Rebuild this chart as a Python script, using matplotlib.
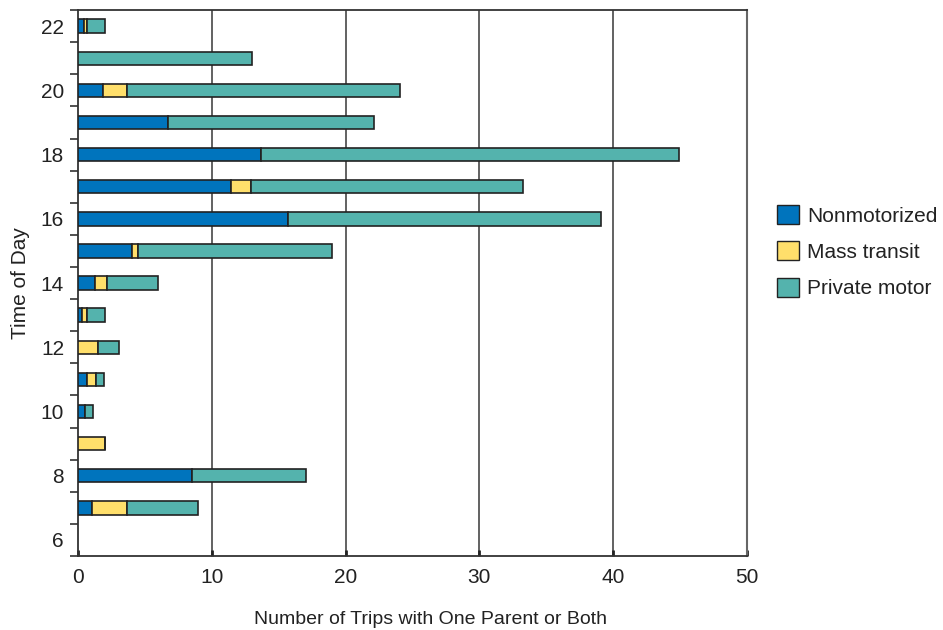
import matplotlib
matplotlib.use("Agg")
import matplotlib.pyplot as plt
from matplotlib.patches import Patch
import numpy as np

plt.rcParams['font.family'] = ['Liberation Sans', 'DejaVu Sans']

hours = [7, 8, 9, 10, 11, 12, 13, 14, 15, 16, 17, 18, 19, 20, 21, 22]
nonmotorized = [1.05, 8.55, 0.0, 0.5, 0.7, 0.0, 0.3, 1.3, 4.05, 15.7, 11.4, 13.7, 6.7, 1.85, 0.0, 0.45]
mass_transit = [2.65, 0.0, 2.0, 0.0, 0.65, 1.5, 0.4, 0.9, 0.45, 0.0, 1.5, 0.0, 0.0, 1.85, 0.0, 0.25]
private_motor = [5.3, 8.5, 0.0, 0.6, 0.6, 1.55, 1.3, 3.8, 14.5, 23.4, 20.35, 31.25, 15.45, 20.4, 13.0, 1.3]

series_names = ["Nonmotorized", "Mass transit", "Private motor"]
colors = ["#0074BD", "#FFDF6B", "#54B3AD"]
yticks = [6, 8, 10, 12, 14, 16, 18, 20, 22]
xticks = [0, 10, 20, 30, 40, 50]

fs = 15
fig = plt.figure(figsize=(9.43, 6.3), dpi=100)
ax = fig.add_axes([0.0827, 0.1175, 0.7095, 0.8665])

left = np.zeros(len(hours))
for vals, c in zip([nonmotorized, mass_transit, private_motor], colors):
    v = np.array(vals)
    ax.barh(hours, v, left=left, height=0.42, color=c, edgecolor="#222222",
            linewidth=1.2, zorder=3)
    left = left + v

ax.set_xlim(0, 50)
ax.set_ylim(5.5, 22.5)
ax.set_xticks(xticks)
ax.set_yticks(yticks)
ax.set_yticks(np.arange(5.5, 23, 1.0), minor=True)
ax.tick_params(axis='y', which='major', length=0, labelsize=fs, pad=10, colors="#222222")
ax.tick_params(axis='y', which='minor', length=6, width=1.2, direction='out', color="#333333")
ax.tick_params(axis='x', which='major', length=4, width=2, direction='in', labelsize=fs,
               pad=9, colors="#222222")

for xv in [10, 20, 30, 40]:
    ax.axvline(xv, color="#555555", linewidth=1.3, zorder=1)

for s in ['left', 'bottom', 'top']:
    ax.spines[s].set_color("#333333")
    ax.spines[s].set_linewidth(1.3)
ax.spines['right'].set_color("#666666")
ax.spines['right'].set_linewidth(1.5)

ax.set_ylabel("Time of Day", fontsize=fs, color="#222222", labelpad=8)
fig.text(430 / 943, 1 - 620 / 630, "Number of Trips with One Parent or Both",
         fontsize=14, color="#222222", ha='center', va='center')

handles = [Patch(facecolor=c, edgecolor="#222222", linewidth=1.0, label=n) for c, n in zip(colors, series_names)]
fig.legend(handles=handles, loc='upper left', bbox_to_anchor=(0.824, 0.675), frameon=False,
           fontsize=fs, handlelength=1.05, handleheight=1.05, handletextpad=0.4,
           labelspacing=0.75, labelcolor="#222222", borderaxespad=0, borderpad=0)

fig.savefig("out.png", dpi=100)
